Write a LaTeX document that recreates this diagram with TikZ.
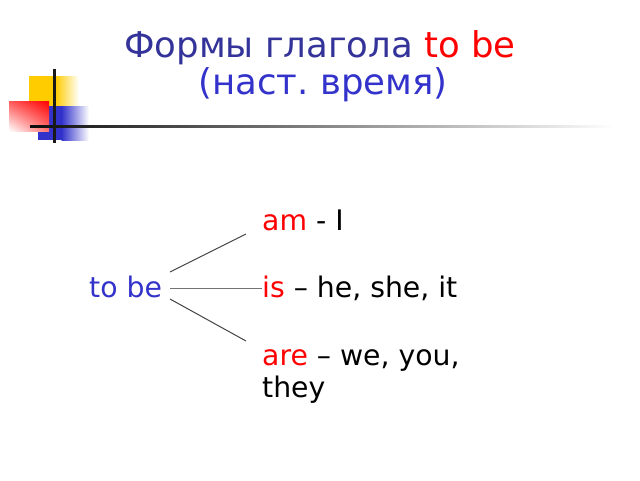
\documentclass[tikz,border=0pt]{standalone}
\usepackage{fontspec}
\usetikzlibrary{shadings}
\setmainfont{DejaVu Sans}
\frenchspacing
\definecolor{tblue}{HTML}{333399}
\definecolor{lblue}{HTML}{3333CC}
\definecolor{ycol}{HTML}{FFCC00}
\definecolor{bcol}{HTML}{3333CC}
\definecolor{rcol}{HTML}{FF0000}
\definecolor{lcol}{HTML}{444444}
\tikzset{
  titletext/.style={inner sep=0pt, anchor=base, font=\fontsize{35.5}{40}\selectfont},
  bodytext/.style={inner sep=0pt, anchor=base west, font=\fontsize{28.3}{32}\selectfont},
  conn/.style={draw=lcol, line width=1pt},
}
\begin{document}
\begin{tikzpicture}[x=1pt,y=-1pt]
\useasboundingbox[fill=white] (0,0) rectangle (640,480);
% decoration
\fill[ycol] (29,76) rectangle (56,125);
\shade[left color=ycol, right color=white] (55.5,76) rectangle (79,125);
\fill[bcol] (38,106) rectangle (62,140);
\shade[left color=bcol, right color=white] (61.5,106) rectangle (89,140);
\shade[upper right=rcol, upper left=rcol!65, lower right=rcol!55, lower left=white] (9,101) rectangle (49,131);
\shade[left color=black!95, right color=white] (30,125) rectangle (615,127.5);
\fill[black!90] (53,69) rectangle (55.5,143);
% title
\node[titletext] (t1) at (320,57) {\textcolor{tblue}{Формы глагола} \textcolor{rcol}{to be}};
\node[titletext] (t2) at (323,94) {\textcolor{lblue}{(наст. время)}};
% body
\node[bodytext] (tobe) at (89,297) {\textcolor{lblue}{to be}};
\node[bodytext] (am) at (262,230) {\textcolor{rcol}{am} - I};
\node[bodytext] (is) at (262,297) {\textcolor{rcol}{is} – he, she, it};
\node[bodytext] (are) at (262,365) {\textcolor{rcol}{are} – we, you,};
\node[bodytext] (they) at (262,397) {they};
% connectors
\coordinate (s1) at (170,272);
\coordinate (s2) at (170,288.5);
\coordinate (s3) at (170,299);
\coordinate (e1) at (246,234);
\coordinate (e3) at (246,341);
\draw[conn] (s1) -- (e1);
\draw[conn, draw=black!55] (s2) -- (is.west |- s2);
\draw[conn] (s3) -- (e3);
\end{tikzpicture}
\end{document}
